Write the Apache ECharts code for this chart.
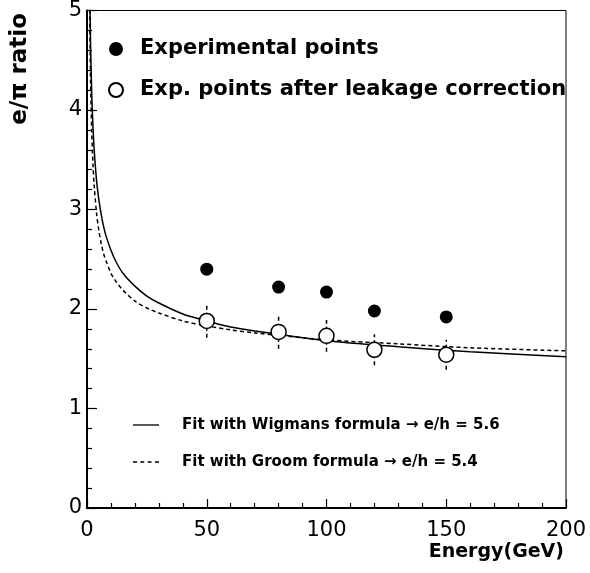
<!DOCTYPE html>
<html>
<head>
<meta charset="utf-8">
<script src="https://cdn.jsdelivr.net/npm/echarts@6/dist/echarts.min.js"></script>
<style>html,body{margin:0;padding:0;background:#fff}#c{width:590px;height:573px}</style>
</head>
<body>
<div id="c"></div>
<script>
// ---- data ----
const energies = [50, 80, 100, 120, 150];
const expPoints = [2.40, 2.22, 2.17, 1.98, 1.92];
const corrPoints = [1.88, 1.77, 1.73, 1.59, 1.54];
const corrErrors = [0.17, 0.17, 0.16, 0.155, 0.15];

const fitEnergies = [1.1, 1.25, 1.5, 2, 2.5, 3, 4, 5, 6, 7, 8, 10, 12, 15, 20, 25, 30, 40, 50, 60, 70, 100, 130, 160, 200];
const wigmansFit = [5.34, 5.03, 4.65, 4.14, 3.83, 3.60, 3.29, 3.09, 2.94, 2.82, 2.73, 2.59, 2.48, 2.36, 2.23, 2.13, 2.06, 1.95, 1.88, 1.82, 1.78, 1.68, 1.62, 1.57, 1.52];
const groomFit   = [5.08, 4.72, 4.29, 3.76, 3.45, 3.24, 2.96, 2.78, 2.65, 2.55, 2.48, 2.36, 2.28, 2.19, 2.08, 2.01, 1.96, 1.88, 1.83, 1.79, 1.76, 1.69, 1.65, 1.61, 1.58];

const xTicks = [0, 50, 100, 150, 200];
const yTicks = [0, 1, 2, 3, 4, 5];

const nameExp = 'Experimental points';
const nameCorr = 'Exp. points after leakage correction';
const nameWig = 'Fit with Wigmans formula \u2192 e/h = 5.6';
const nameGroom = 'Fit with Groom formula \u2192 e/h = 5.4';

const FONT = 'DejaVu Sans';

const chart = echarts.init(document.getElementById('c'), null, {renderer: 'canvas'});

const zip = (a, b) => a.map((v, i) => [v, b[i]]);

const solidIcon = 'path://M0,0h26v1.3h-26z';
const dashIcon = 'path://M0,0h4v1.3h-4z M7.3,0h4v1.3h-4z M14.6,0h4v1.3h-4z M22,0h4v1.3h-4z';

const option = {
  animation: false,
  backgroundColor: '#fff',
  textStyle: {fontFamily: FONT, color: '#000'},
  grid: {left: 87, right: 24, top: 10, bottom: 65, show: true, borderColor: '#000', borderWidth: 1, backgroundColor: 'transparent'},
  xAxis: {
    type: 'value', min: xTicks[0], max: xTicks[xTicks.length - 1], interval: 50,
    axisLine: {show: true, onZero: false, lineStyle: {color: '#000', width: 2}},
    axisTick: {show: true, inside: true, length: 9, lineStyle: {color: '#000', width: 1.2}},
    minorTick: {show: true, splitNumber: 5, length: 5, lineStyle: {color: '#000', width: 1.2}},
    splitLine: {show: false},
    axisLabel: {color: '#000', fontSize: 21, fontFamily: FONT, margin: 12}
  },
  yAxis: {
    type: 'value', min: yTicks[0], max: yTicks[yTicks.length - 1], interval: 1,
    axisLine: {show: true, onZero: false, lineStyle: {color: '#000', width: 2}},
    axisTick: {show: true, inside: true, length: 10, lineStyle: {color: '#000', width: 1.2}},
    minorTick: {show: true, splitNumber: 5, length: 5, lineStyle: {color: '#000', width: 1.2}},
    splitLine: {show: false},
    axisLabel: {color: '#000', fontSize: 21, fontFamily: FONT, margin: 5}
  },
  legend: [
    {
      data: [nameExp, nameCorr], orient: 'vertical', left: 108, top: 38, padding: 0,
      itemWidth: 14, itemHeight: 14, itemGap: 19, selectedMode: false,
      textStyle: {fontSize: 21, fontWeight: 'bold', fontFamily: FONT, color: '#000', lineHeight: 22, padding: [0, 0, 0, 12]}
    },
    {
      data: [{name: nameWig, icon: solidIcon}, {name: nameGroom, icon: dashIcon}],
      orient: 'vertical', left: 133, top: 416, padding: 0,
      itemWidth: 26, itemHeight: 14, itemGap: 19, selectedMode: false,
      textStyle: {fontSize: 15, fontWeight: 'bold', fontFamily: FONT, color: '#000', lineHeight: 18, padding: [0, 0, 0, 18]}
    }
  ],
  graphic: [
    {type: 'text', left: 9, top: 13, rotation: Math.PI / 2,
      style: {text: 'e/\u03c0 ratio', fontSize: 23, fontWeight: 'bold', fontFamily: FONT, fill: '#000'}},
    {type: 'text', right: 26, top: 543,
      style: {text: 'Energy(GeV)', fontSize: 19, fontWeight: 'bold', fontFamily: FONT, fill: '#000'}}
  ],
  series: [
    {
      name: nameWig, type: 'line', data: zip(fitEnergies, wigmansFit), smooth: 0.3,
      symbol: 'none', clip: true, itemStyle: {color: '#000'}, lineStyle: {color: '#000', width: 1.5, type: 'solid'}, z: 3
    },
    {
      name: nameGroom, type: 'line', data: zip(fitEnergies, groomFit), smooth: 0.3,
      symbol: 'none', clip: true, itemStyle: {color: '#000'}, lineStyle: {color: '#000', width: 1.5, type: [4, 3]}, z: 3
    },
    {
      name: 'errors', type: 'custom', z: 4,
      data: energies.map((e, i) => [e, corrPoints[i] - corrErrors[i], corrPoints[i] + corrErrors[i]]),
      renderItem: function (params, api) {
        const p1 = api.coord([api.value(0), api.value(1)]);
        const p2 = api.coord([api.value(0), api.value(2)]);
        return {type: 'line', shape: {x1: p1[0], y1: p1[1], x2: p2[0], y2: p2[1]},
          style: {stroke: '#000', lineWidth: 1.5, lineDash: [4, 3]}};
      }
    },
    {
      name: nameExp, type: 'scatter', data: zip(energies, expPoints), symbol: 'circle', symbolSize: 13,
      itemStyle: {color: '#000', opacity: 1}, z: 5
    },
    {
      name: nameCorr, type: 'scatter', data: zip(energies, corrPoints), symbol: 'circle', symbolSize: 15,
      itemStyle: {color: '#fff', borderColor: '#000', borderWidth: 1.5, opacity: 1}, z: 5
    }
  ]
};
chart.setOption(option);
</script>
</body>
</html>
